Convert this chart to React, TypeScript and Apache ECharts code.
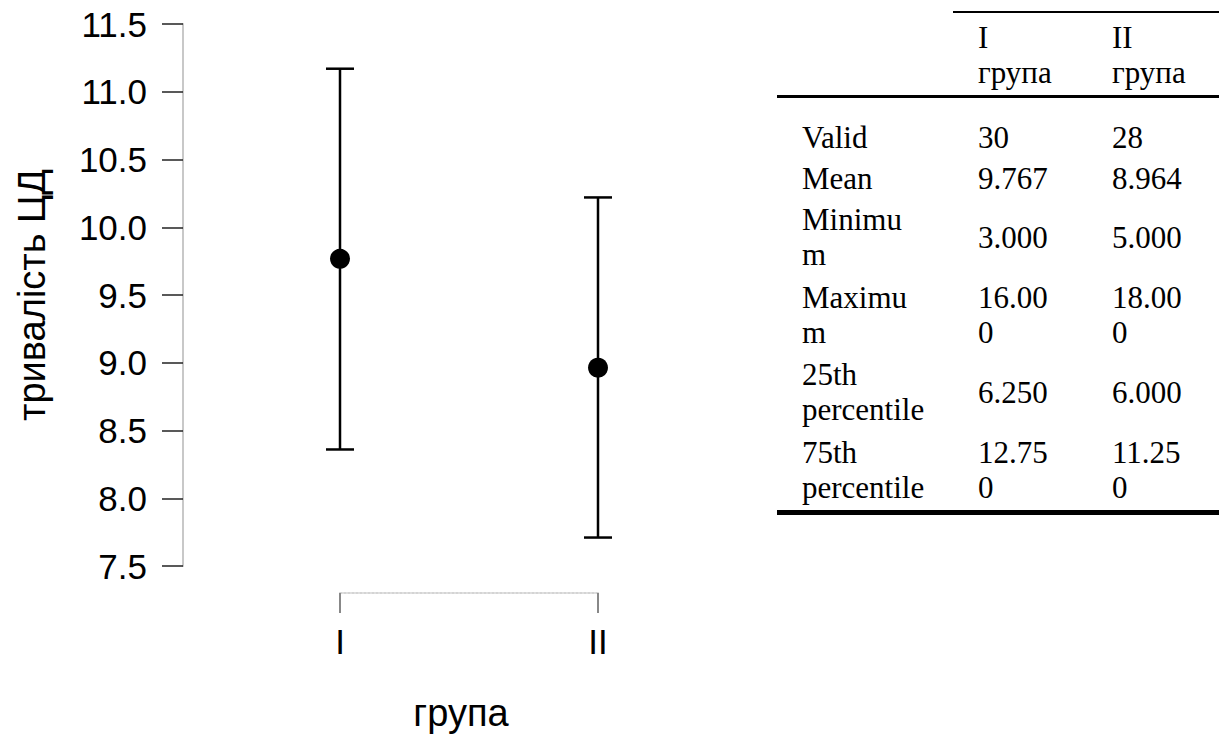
import React, { useEffect, useRef } from "react";
import * as echarts from "echarts";

// ---- data ----
const groups = ["I", "II"];
const means = [9.767, 8.964];
const ciLower = [8.36, 7.71];
const ciUpper = [11.17, 10.22];
const yTicks = { min: 7.5, max: 11.5, step: 0.5 };
const yTitle = "тривалість ЦД";
const xTitle = "група";

const tableHeader = ["I\nгрупа", "II\nгрупа"];
const rowLabels = ["Valid", "Mean", "Minimu\nm", "Maximu\nm", "25th\npercentile", "75th\npercentile"];
const group1Stats = ["30", "9.767", "3.000", "16.00\n0", "6.250", "12.75\n0"];
const group2Stats = ["28", "8.964", "5.000", "18.00\n0", "6.000", "11.25\n0"];

export default function App() {
  const ref = useRef<HTMLDivElement>(null);

  useEffect(() => {
    if (!ref.current) return;
    const chart = echarts.init(ref.current, undefined, { renderer: "svg" });

    const sans = "Liberation Sans, Arial, sans-serif";
    const serif = "Liberation Serif, Times New Roman, serif";

    const errData = groups.map((_, i) => [i + 1, ciLower[i], ciUpper[i]]);
    const meanData = groups.map((_, i) => [i + 1, means[i]]);

    // table graphics
    const rowCenters = [137, 178, 237, 315, 392, 470];
    const colX = [802, 978, 1112];
    const tStyle = (text: string) => ({
      text,
      fontFamily: serif,
      fontSize: 31,
      lineHeight: 35,
      fill: "#000",
      verticalAlign: "middle",
      align: "left",
    });
    const tableEls: any[] = [];
    tableEls.push({ type: "rect", shape: { x: 953, y: 11, width: 266, height: 2 }, style: { fill: "#000" } });
    tableEls.push({ type: "rect", shape: { x: 777, y: 95, width: 442, height: 3 }, style: { fill: "#000" } });
    tableEls.push({ type: "rect", shape: { x: 777, y: 510, width: 442, height: 5 }, style: { fill: "#000" } });
    tableHeader.forEach((h, j) => {
      tableEls.push({ type: "text", x: colX[j + 1], y: 55, style: tStyle(h) });
    });
    rowLabels.forEach((lab, i) => {
      tableEls.push({ type: "text", x: colX[0], y: rowCenters[i], style: tStyle(lab) });
      tableEls.push({ type: "text", x: colX[1], y: rowCenters[i], style: tStyle(group1Stats[i]) });
      tableEls.push({ type: "text", x: colX[2], y: rowCenters[i], style: tStyle(group2Stats[i]) });
    });

    chart.setOption({
      animation: false,
      backgroundColor: "#fff",
      grid: { left: 340, right: 621, top: 24, bottom: 174, containLabel: false, outerBoundsMode: "none" },
      xAxis: {
        type: "value",
        min: 1,
        max: 2,
        interval: 1,
        offset: 27,
        name: xTitle,
        nameLocation: "middle",
        nameGap: 101,
        nameTextStyle: { fontFamily: sans, fontSize: 38, color: "#000", padding: [0, 16, 0, 0] },
        axisLine: { show: true, lineStyle: { color: "#d4d4d4", type: "dotted", width: 2 } },
        axisTick: { show: true, length: 20, lineStyle: { color: "#888", width: 2 } },
        axisLabel: {
          fontFamily: sans,
          fontSize: 35,
          color: "#000",
          margin: 31,
          formatter: (v: number) => groups[Math.round(v) - 1] ?? "",
        },
        splitLine: { show: false },
      },
      yAxis: {
        type: "value",
        min: yTicks.min,
        max: yTicks.max,
        interval: yTicks.step,
        offset: 157,
        name: yTitle,
        nameLocation: "middle",
        nameGap: 132,
        nameRotate: 90,
        nameTextStyle: { fontFamily: sans, fontSize: 38, color: "#000" },
        axisLine: { show: true, lineStyle: { color: "#c8c8c8", width: 2 } },
        axisTick: { show: true, length: 21, lineStyle: { color: "#222", width: 1.5 } },
        axisLabel: {
          fontFamily: sans,
          fontSize: 35,
          color: "#000",
          margin: 36,
          formatter: (v: number) => v.toFixed(1),
        },
        splitLine: { show: false },
      },
      series: [
        {
          type: "custom",
          clip: false,
          data: errData,
          renderItem: (params: any, api: any) => {
            const x = api.value(0);
            const lo = api.coord([x, api.value(1)]);
            const hi = api.coord([x, api.value(2)]);
            const hw = 14;
            const st = { stroke: "#000", lineWidth: 2.5 };
            return {
              type: "group",
              children: [
                { type: "line", shape: { x1: lo[0], y1: lo[1], x2: hi[0], y2: hi[1] }, style: st },
                { type: "line", shape: { x1: lo[0] - hw, y1: lo[1], x2: lo[0] + hw, y2: lo[1] }, style: st },
                { type: "line", shape: { x1: hi[0] - hw, y1: hi[1], x2: hi[0] + hw, y2: hi[1] }, style: st },
              ],
            };
          },
          z: 2,
        },
        {
          type: "scatter",
          data: meanData,
          symbol: "circle",
          symbolSize: 20,
          clip: false,
          itemStyle: { color: "#000", opacity: 1 },
          z: 3,
        },
      ],
      graphic: tableEls,
    });

    return () => chart.dispose();
  }, []);

  return (
    <div
      ref={ref}
      style={{ position: "fixed", left: 0, top: 0, width: 1219, height: 740, background: "#fff" }}
    />
  );
}
